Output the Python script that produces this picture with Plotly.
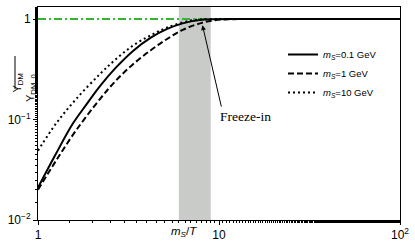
import numpy as np
import plotly.graph_objects as go

# ---- data ----
x_01gev = [1, 1.25, 1.555, 1.84, 2.2, 2.7, 3.35, 4.2, 5.14, 6.3, 7.85, 9.5, 12, 20, 40, 100]
y_01gev = [0.021, 0.0448, 0.0906, 0.139, 0.215, 0.33, 0.482, 0.654, 0.794, 0.906, 0.977, 0.995, 1.0, 1.0, 1.0, 1.0]
x_1gev = [1, 1.257, 1.62, 2.2, 2.7, 3.35, 4.2, 5.14, 6.3, 7.85, 9.5, 12, 20, 40, 100]
y_1gev = [0.020, 0.0389, 0.0776, 0.16, 0.245, 0.355, 0.49, 0.63, 0.78, 0.906, 0.975, 0.997, 1.0, 1.0, 1.0]
x_10gev = [1, 1.257, 1.62, 2.2, 2.7, 3.35, 4.2, 5.14, 6.92, 8.5, 10, 20, 40, 100]
y_10gev = [0.049, 0.091, 0.159, 0.284, 0.40, 0.545, 0.69, 0.82, 0.966, 0.995, 1.0, 1.0, 1.0, 1.0]
series_names = ["<i>m<sub>S</sub></i>=0.1 GeV", "<i>m<sub>S</sub></i>=1 GeV", "<i>m<sub>S</sub></i>=10 GeV"]
ref_x = [1, 100]
ref_y = [1, 1]
band_x = [6.0, 9.0]
freeze_head = (8.1, 0.87)
freeze_tail = (10.35, 0.13)
x_tickvals = [1, 10, 100]
x_ticktext = ["1", "10", "10<sup>2</sup>"]
y_tickvals = [0.01, 0.1, 1]
y_ticktext = ["10<sup>−2</sup>", "10<sup>−1</sup>", "1"]
ms_T_pos = 6.4

fig = go.Figure()

fig.add_trace(go.Scatter(x=ref_x, y=ref_y, mode="lines", showlegend=False,
                         line=dict(color="#30b830", width=2, dash="8px,3px,2px,3px")))
fig.add_trace(go.Scatter(x=x_01gev, y=y_01gev, mode="lines", name=series_names[0],
                         line=dict(color="black", width=2, shape="spline", smoothing=1.0)))
fig.add_trace(go.Scatter(x=x_1gev, y=y_1gev, mode="lines", name=series_names[1],
                         line=dict(color="black", width=2, dash="6px,3px", shape="spline", smoothing=1.0)))
fig.add_trace(go.Scatter(x=x_10gev, y=y_10gev, mode="lines", name=series_names[2],
                         line=dict(color="black", width=2, dash="2px,3px", shape="spline", smoothing=1.0)))

# shaded freeze-in band
fig.add_shape(type="rect", xref="x", yref="paper",
              x0=band_x[0], x1=band_x[1], y0=0, y1=1,
              fillcolor="#c9cbc9", line=dict(width=0), layer="below")

L, R, T, B = 38, 15, 7, 25
W, H = 415, 245
pw, ph = W - L - R, H - T - B

# Freeze-in arrow + label
fig.add_annotation(x=np.log10(freeze_head[0]), y=np.log10(freeze_head[1]), xref="x", yref="y",
                   ax=np.log10(freeze_tail[0]), ay=np.log10(freeze_tail[1]), axref="x", ayref="y",
                   text="", showarrow=True, arrowhead=2, arrowsize=1, arrowwidth=1, arrowcolor="black",
                   standoff=0, startstandoff=0)
fig.add_annotation(x=np.log10(freeze_tail[0]), y=np.log10(freeze_tail[1]), xref="x", yref="y",
                   text="Freeze-in", showarrow=False, xanchor="left", yanchor="top", xshift=-4, yshift=1,
                   font=dict(family="Liberation Serif", size=13.5, color="black"))

# m_S/T axis label
fig.add_annotation(x=np.log10(ms_T_pos), y=0, xref="x", yref="paper", yanchor="top", yshift=-3,
                   text="<i>m<sub>S</sub></i>/<i>T</i>", showarrow=False,
                   font=dict(family="Liberation Sans", size=11.5, color="black"))

# y-axis fraction label
yc = (H - B - 72) / ph
fig.add_annotation(x=0, y=yc, xref="paper", yref="paper", xshift=-(L - 9), textangle=-90,
                   text="Y<sub>DM</sub>", showarrow=False,
                   font=dict(family="Liberation Sans", size=11, color="black"))
fig.add_annotation(x=0, y=yc, xref="paper", yref="paper", xshift=-(L - 22), textangle=-90,
                   text="Y<sub>DM, 0</sub>", showarrow=False,
                   font=dict(family="Liberation Sans", size=11, color="black"))
fig.add_shape(type="line", xref="paper", yref="paper",
              x0=(15 - L) / pw, x1=(15 - L) / pw,
              y0=(H - B - 56) / ph, y1=(H - B - 89) / ph, line=dict(color="black", width=1))

axis_common = dict(showline=True, linecolor="black", linewidth=1, mirror=True, showgrid=False,
                   zeroline=False, ticks="outside", ticklen=4, tickcolor="black", automargin=False,
                   tickfont=dict(family="Liberation Sans", size=12, color="black"),
                   minor=dict(ticks="outside", ticklen=2, tickcolor="black", showgrid=False))

fig.update_xaxes(type="log", range=[0, 2], tickvals=x_tickvals, ticktext=x_ticktext, **axis_common)
fig.update_yaxes(type="log", range=[-2, 0.12], tickvals=y_tickvals, ticktext=y_ticktext, **axis_common)

fig.update_layout(
    width=W, height=H, margin=dict(l=L, r=R, t=T, b=B, autoexpand=False),
    plot_bgcolor="white", paper_bgcolor="white",
    legend=dict(x=(283 - L) / pw, y=(H - B - 40) / ph, xanchor="left", yanchor="top",
                bgcolor="rgba(0,0,0,0)", font=dict(family="Liberation Sans", size=9.5, color="black"),
                itemwidth=30, tracegroupgap=0),
)

fig.write_html("out.html", config={"displayModeBar": False},
               post_script="document.body.style.margin='0';document.body.style.overflow='hidden';")
